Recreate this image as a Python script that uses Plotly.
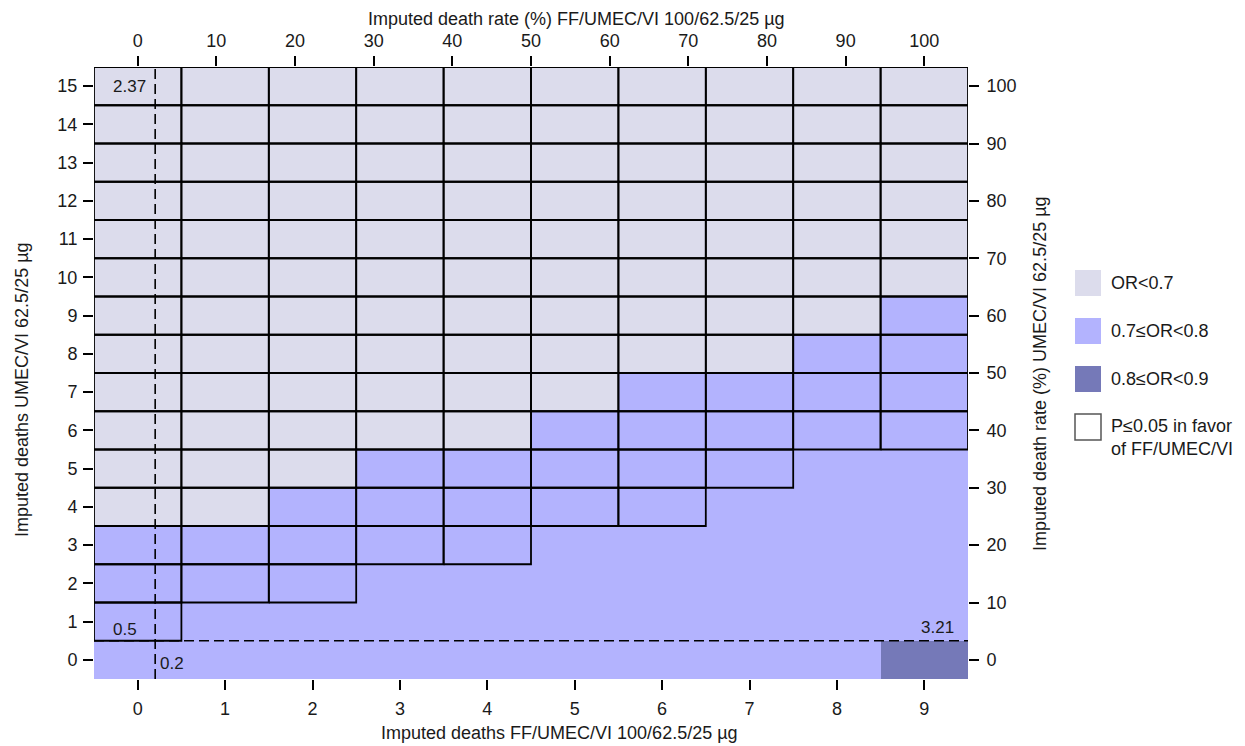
import plotly.graph_objects as go

# ---------------- data ----------------
deaths_ffumecvi = list(range(10))      # x categories
deaths_umecvi = list(range(16))        # y categories

# OR class per cell, rows listed from y=15 (top) down to y=0
# 0: OR<0.7, 1: 0.7<=OR<0.8, 2: 0.8<=OR<0.9
or_class_rows_top_down = [
    "0000000000",  # 15
    "0000000000",  # 14
    "0000000000",  # 13
    "0000000000",  # 12
    "0000000000",  # 11
    "0000000000",  # 10
    "0000000001",  # 9
    "0000000011",  # 8
    "0000001111",  # 7
    "0000011111",  # 6
    "0001111111",  # 5
    "0011111111",  # 4
    "1111111111",  # 3
    "1111111111",  # 2
    "1111111111",  # 1
    "1111111112",  # 0
]
# lowest y (imputed UMEC/VI deaths) at which P<=0.05, per x column
sig_min_row = [1, 2, 2, 3, 3, 4, 4, 5, 6, 6]

# reference values
vline_x = 0.2
hline_y = 0.5
ref_labels = ["2.37", "0.5", "0.2", "3.21"]

# rate axes
rate_ticks = list(range(0, 101, 10))
n_ffumecvi_for_100pct = 9
n_umecvi_for_100pct = 15

class_names = ["OR<0.7", "0.7\u2264OR<0.8", "0.8\u2264OR<0.9"]
class_colors = ["#DCDCEC", "#B3B3FE", "#7579B8"]
sig_label = "P\u22640.05 in favor<br>of FF/UMEC/VI"

FONT = "Liberation Sans, Arial, sans-serif"
TXT = "#1a1a1a"

# ---------------- figure ----------------
z = [[int(c) for c in row] for row in reversed(or_class_rows_top_down)]

fig = go.Figure()
fig.add_trace(go.Heatmap(
    x=deaths_ffumecvi, y=deaths_umecvi, z=z,
    zmin=-0.5, zmax=2.5,
    colorscale=[[0, class_colors[0]], [1/3, class_colors[0]],
                [1/3, class_colors[1]], [2/3, class_colors[1]],
                [2/3, class_colors[2]], [1, class_colors[2]]],
    showscale=False, hoverinfo="skip",
))

# significance boxes
bx, by = [], []
top_row = deaths_umecvi[-1]
for xi, ymin in zip(deaths_ffumecvi, sig_min_row):
    for yi in range(ymin, top_row + 1):
        bx += [xi - 0.5, xi + 0.5, xi + 0.5, xi - 0.5, xi - 0.5, None]
        by += [yi - 0.5, yi - 0.5, yi + 0.5, yi + 0.5, yi - 0.5, None]
fig.add_trace(go.Scatter(x=bx, y=by, mode="lines",
                         line=dict(color="black", width=1.8),
                         hoverinfo="skip", showlegend=False))

# invisible trace for secondary axes
fig.add_trace(go.Scatter(x=[0, 100], y=[0, 100], xaxis="x2", yaxis="y2",
                         mode="markers", marker=dict(opacity=0),
                         hoverinfo="skip", showlegend=False))

fig.add_vline(x=vline_x, line=dict(color="black", width=1.6, dash="10px,5px"))
fig.add_hline(y=hline_y, line=dict(color="black", width=1.6, dash="10px,5px"))

ann_font = dict(family=FONT, size=17, color=TXT)
fig.add_annotation(x=vline_x - 0.08, y=top_row, text=ref_labels[0], showarrow=False,
                   xanchor="right", yanchor="middle", font=ann_font)
fig.add_annotation(x=-0.15, y=hline_y + 0.3, text=ref_labels[1], showarrow=False,
                   xanchor="center", yanchor="middle", font=ann_font)
fig.add_annotation(x=vline_x + 0.03, y=-0.1, text=ref_labels[2], showarrow=False,
                   xanchor="left", yanchor="middle", font=ann_font)
fig.add_annotation(x=9.15, y=hline_y + 0.35, text=ref_labels[3], showarrow=False,
                   xanchor="center", yanchor="middle", font=ann_font)

# page layout (the page body has an 8px margin)
OFF = 8
W, H = 1245 - OFF, 746 - OFF
L, T = 94 - OFF, 67 - OFF
R, B = 277, 67
pw, ph = W - L - R, H - T - B


def px(x):
    return (x - OFF - L) / pw


def py(y):
    return (H - B - (y - OFF)) / ph


# axis titles as annotations
title_font = dict(family=FONT, size=18, color=TXT)
fig.add_annotation(xref="paper", yref="paper", x=px(559), y=py(733),
                   text="Imputed deaths FF/UMEC/VI 100/62.5/25 \u00b5g",
                   showarrow=False, xanchor="center", yanchor="middle", font=title_font)
fig.add_annotation(xref="paper", yref="paper", x=px(576), y=py(19),
                   text="Imputed death rate (%) FF/UMEC/VI 100/62.5/25 \u00b5g",
                   showarrow=False, xanchor="center", yanchor="middle", font=title_font)
fig.add_annotation(xref="paper", yref="paper", x=px(22), y=py(390),
                   text="Imputed deaths UMEC/VI 62.5/25 \u00b5g", textangle=-90,
                   showarrow=False, xanchor="center", yanchor="middle", font=title_font)
fig.add_annotation(xref="paper", yref="paper", x=px(1040), y=py(374),
                   text="Imputed death rate (%) UMEC/VI 62.5/25 \u00b5g", textangle=-90,
                   showarrow=False, xanchor="center", yanchor="middle", font=title_font)

# legend (manual)
leg_x0, leg_size = 1075, 26
leg_centers = [283, 331, 379, 427]
for i, (name, col) in enumerate(zip(class_names + [sig_label], class_colors + ["white"])):
    cy = leg_centers[i]
    fig.add_shape(type="rect", xref="paper", yref="paper",
                  x0=px(leg_x0), x1=px(leg_x0 + leg_size),
                  y0=py(cy + leg_size / 2), y1=py(cy - leg_size / 2),
                  fillcolor=col,
                  line=dict(color="#555555" if i == 3 else col, width=1.5 if i == 3 else 0))
    fig.add_annotation(xref="paper", yref="paper", x=px(1109),
                       y=py(cy + (10 if i == 3 else 0)),
                       text=name, showarrow=False, xanchor="left", yanchor="middle",
                       align="left", font=dict(family=FONT, size=18, color=TXT))

tick_font = dict(family=FONT, size=18, color=TXT)
axis_common = dict(showgrid=False, zeroline=False, showline=False, automargin=False,
                   ticks="outside", tickcolor="black", tickwidth=2, ticklen=10,
                   tickfont=tick_font)

fig.update_layout(
    width=W, height=H,
    margin=dict(l=L, r=R, t=T, b=B),
    paper_bgcolor="white", plot_bgcolor="white",
    showlegend=False,
    xaxis=dict(range=[-0.5, 9.5], tickmode="array", tickvals=deaths_ffumecvi,
               ticklabelstandoff=3, **axis_common),
    yaxis=dict(range=[-0.5, 15.5], tickmode="array", tickvals=deaths_umecvi,
               ticklabelstandoff=2, **axis_common),
    xaxis2=dict(overlaying="x", side="top",
                range=[-0.5 * 100 / n_ffumecvi_for_100pct, 9.5 * 100 / n_ffumecvi_for_100pct],
                tickmode="array", tickvals=rate_ticks, ticklabelstandoff=2, **axis_common),
    yaxis2=dict(overlaying="y", side="right",
                range=[-0.5 * 100 / n_umecvi_for_100pct, 15.5 * 100 / n_umecvi_for_100pct],
                tickmode="array", tickvals=rate_ticks, ticklabelstandoff=4, **axis_common),
)

fig.write_html("out.html")
